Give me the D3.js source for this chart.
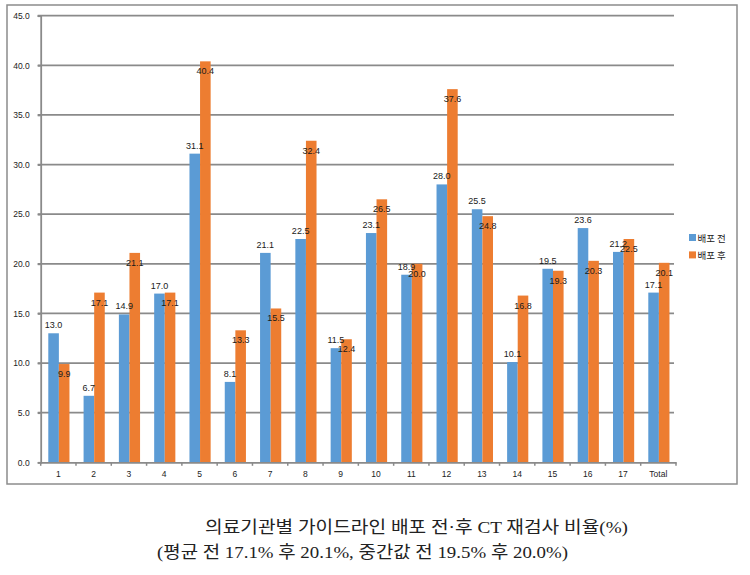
<!DOCTYPE html>
<html><head><meta charset="utf-8">
<script src="https://cdn.jsdelivr.net/npm/d3@7"></script>
<style>
body{margin:0;background:#fff;}
svg{display:block;}
</style>
</head><body>
<svg id="c" width="750" height="575"></svg>
<script>
const categories = ["1","2","3","4","5","6","7","8","9","10","11","12","13","14","15","16","17","Total"];
const before = [13.0, 6.7, 14.9, 17.0, 31.1, 8.1, 21.1, 22.5, 11.5, 23.1, 18.9, 28.0, 25.5, 10.1, 19.5, 23.6, 21.2, 17.1];
const after  = [9.9, 17.1, 21.1, 17.1, 40.4, 13.3, 15.5, 32.4, 12.4, 26.5, 20.0, 37.6, 24.8, 16.8, 19.3, 20.3, 22.5, 20.1];
const seriesNames = ["배포 전", "배포 후"];
const yTicks = [0, 5, 10, 15, 20, 25, 30, 35, 40, 45];
const captionLines = ["의료기관별 가이드라인 배포 전·후 CT 재검사 비율(%)", "(평균 전 17.1% 후 20.1%, 중간값 전 19.5% 후 20.0%)"];

const colors = ["#5B9BD5", "#ED7D31"];
const gridColor = "#8a8a8a";
const svg = d3.select("#c");

// outer frame
svg.append("rect").attr("x", 7).attr("y", 5).attr("width", 730).attr("height", 479)
  .attr("fill", "#fff").attr("stroke", "#8c8c8c").attr("stroke-width", 1.5);

const pL = 40.7, pR = 676, pT = 15.7, pB = 462.3;
const x0 = d3.scaleBand().domain(categories).range([pL, pR]);
const bw = x0.bandwidth();
const x1 = d3.scaleBand().domain([0, 1]).range([bw * 0.215, bw * 0.815]);
const y = d3.scaleLinear().domain([0, 45]).range([pB, pT]);

// gridlines
svg.append("g").selectAll("line").data(yTicks.filter(t => t > 0)).join("line")
  .attr("x1", pL - 3).attr("x2", pR - 2)
  .attr("y1", d => y(d)).attr("y2", d => y(d))
  .attr("stroke", gridColor).attr("stroke-width", 1.8);

// y axis
const yAxis = d3.axisLeft(y).tickValues(yTicks).tickFormat(d3.format(".1f")).tickSize(3).tickPadding(8);
const gy = svg.append("g").attr("transform", `translate(${pL},0)`).call(yAxis);
gy.select(".domain").attr("stroke", gridColor).attr("stroke-width", 1.8);
gy.selectAll(".tick line").attr("stroke", gridColor).attr("stroke-width", 1.8);
gy.selectAll("text").attr("font-family", "Liberation Sans, Arial, sans-serif").attr("font-size", 8.5).attr("fill", "#222");

// bars
const data = categories.map((c, i) => ({c, vals: [before[i], after[i]]}));
const groups = svg.append("g").selectAll("g").data(data).join("g")
  .attr("transform", d => `translate(${x0(d.c)},0)`);
groups.selectAll("rect").data(d => d.vals.map((v, k) => ({v, k}))).join("rect")
  .attr("x", d => x1(d.k)).attr("width", x1.bandwidth())
  .attr("y", d => y(d.v)).attr("height", d => y(0) - y(d.v))
  .attr("fill", d => colors[d.k]);

// x axis
const xAxis = d3.axisBottom(x0).tickSize(0).tickPadding(9);
const gx = svg.append("g").attr("transform", `translate(0,${pB})`).call(xAxis);
gx.select(".domain").attr("stroke", gridColor).attr("stroke-width", 1.8);
gx.selectAll("text").attr("font-family", "Liberation Sans, Arial, sans-serif").attr("font-size", 8.5).attr("fill", "#222");
// boundary tick marks
const bounds = categories.map(c => x0(c)).concat([pR]);
svg.append("g").selectAll("line").data(bounds).join("line")
  .attr("x1", d => d).attr("x2", d => d).attr("y1", pB).attr("y2", pB + 3.5)
  .attr("stroke", gridColor).attr("stroke-width", 1.5);

// data labels
groups.selectAll("text.lbl").data(d => d.vals.map((v, k) => ({v, k}))).join("text")
  .attr("class", "lbl")
  .attr("x", d => x1(d.k) + x1.bandwidth() / 2)
  .attr("y", d => d.k === 0 ? y(d.v) - 5 : y(d.v) + 13)
  .attr("text-anchor", "middle")
  .attr("font-family", "Liberation Sans, Arial, sans-serif").attr("font-size", 9)
  .attr("fill", "#1a1a1a")
  .text(d => d3.format(".1f")(d.v));

// legend
const lg = svg.append("g").attr("transform", "translate(689,234)");
seriesNames.forEach((n, i) => {
  lg.append("rect").attr("x", 0).attr("y", i * 17.4).attr("width", 7).attr("height", 7).attr("fill", colors[i]);
  lg.append("text").attr("x", 8.5).attr("y", i * 17.4 + 7.5)
    .attr("font-family", "Noto Sans CJK KR, sans-serif").attr("font-size", 9.5).attr("fill", "#222").text(n);
});

// caption
svg.append("text").attr("x", 205).attr("y", 533)
  .attr("font-family", "Liberation Serif, Noto Sans CJK KR, serif").attr("font-size", 16.5).attr("fill", "#222")
  .attr("textLength", 423).attr("lengthAdjust", "spacingAndGlyphs")
  .text(captionLines[0]);
svg.append("text").attr("x", 157).attr("y", 558)
  .attr("font-family", "Liberation Serif, Noto Sans CJK KR, serif").attr("font-size", 16.5).attr("fill", "#222")
  .attr("textLength", 411).attr("lengthAdjust", "spacingAndGlyphs")
  .text(captionLines[1]);
</script>
</body></html>
